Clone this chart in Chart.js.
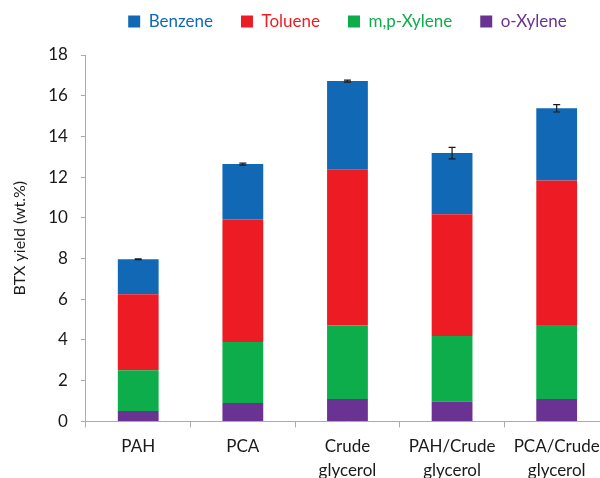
<!DOCTYPE html>
<html>
<head>
<meta charset="utf-8">
<script src="https://cdn.jsdelivr.net/npm/chart.js@4.4.1/dist/chart.umd.min.js"></script>
<style>
  html, body { margin: 0; padding: 0; background: #fff; overflow: hidden; }
  #wrap { width: 612px; height: 478px; position: relative; }
</style>
</head>
<body>
<div id="wrap"><canvas id="btxChart"></canvas></div>
<script>
// values (wt.%)
const categories = ['PAH', 'PCA', ['Crude', 'glycerol'], ['PAH/Crude', 'glycerol'], ['PCA/Crude', 'glycerol']];
const oXylene = [0.51, 0.90, 1.10, 0.98, 1.10];
const mpXylene = [2.00, 3.00, 3.61, 3.22, 3.64];
const toluene = [3.74, 6.02, 7.68, 5.98, 7.10];
const benzene = [1.72, 2.72, 4.33, 3.00, 3.54];
const totalError = [0.02, 0.05, 0.05, 0.28, 0.18];
const yTicks = [0, 2, 4, 6, 8, 10, 12, 14, 16, 18];

const FONT = 'Lato, "Open Sans", sans-serif';
const axisGray = '#ababab';

// error bar on top of each stacked total
const errorBars = {
    id: 'errorBars',
    afterDatasetsDraw(chart) {
        const ctx = chart.ctx;
        const x = chart.scales.x;
        const y = chart.scales.y;
        ctx.save();
        ctx.strokeStyle = '#1a1a1a';
        ctx.lineWidth = 1.2;
        categories.forEach((c, i) => {
            const total = oXylene[i] + mpXylene[i] + toluene[i] + benzene[i];
            const cx = x.getPixelForValue(i);
            const hi = y.getPixelForValue(total + totalError[i]);
            const lo = y.getPixelForValue(total - totalError[i]);
            ctx.beginPath();
            ctx.moveTo(cx, hi); ctx.lineTo(cx, lo);
            ctx.moveTo(cx - 3.5, hi); ctx.lineTo(cx + 3.5, hi);
            ctx.moveTo(cx - 3.5, lo); ctx.lineTo(cx + 3.5, lo);
            ctx.stroke();
        });
        ctx.restore();
    }
};

// leave extra room under the legend row so the plot starts lower
const legendGap = {
    id: 'legendGap',
    beforeLayout(chart) {
        const lg = chart.legend;
        if (lg && !lg._gapPatched) {
            const fit = lg.fit.bind(lg);
            lg.fit = function() { fit(); this.height += 15; };
            lg._gapPatched = true;
        }
    }
};

const ctx = document.getElementById('btxChart').getContext('2d');

new Chart(ctx, {
    type: 'bar',
    data: {
        labels: categories,
        datasets: [
            { label: 'o-Xylene', data: oXylene, backgroundColor: '#6a3393' },
            { label: 'm,p-Xylene', data: mpXylene, backgroundColor: '#0dad4b' },
            { label: 'Toluene', data: toluene, backgroundColor: '#ed1c24' },
            { label: 'Benzene', data: benzene, backgroundColor: '#1169b6' }
        ]
    },
    options: {
        responsive: true,
        maintainAspectRatio: false,
        animation: false,
        datasets: {
            bar: { categoryPercentage: 1, barPercentage: 0.39, borderWidth: 0 }
        },
        layout: { padding: { top: -15, right: 3, bottom: -11, left: 6 } },
        plugins: {
            tooltip: { enabled: false },
            legend: {
                position: 'top',
                fullSize: false,
                reverse: true,
                labels: {
                    boxWidth: 12,
                    boxHeight: 12,
                    padding: 28,
                    font: { family: FONT, size: 17 },
                    generateLabels(chart) {
                        const items = Chart.defaults.plugins.legend.labels.generateLabels(chart);
                        items.forEach(it => { it.fontColor = it.fillStyle; it.lineWidth = 0; });
                        return items;
                    }
                }
            }
        },
        scales: {
            x: {
                stacked: true,
                grid: { drawOnChartArea: false, color: axisGray, tickLength: 6, offset: true },
                border: { color: axisGray },
                ticks: { color: '#1a1a1a', font: { family: FONT, size: 17, lineHeight: 1.4 }, padding: 7, maxRotation: 0 }
            },
            y: {
                stacked: true,
                min: 0,
                max: 18,
                afterBuildTicks(scale) { scale.ticks = yTicks.map(v => ({ value: v })); },
                grid: { drawOnChartArea: false, color: axisGray, tickLength: 5 },
                border: { color: axisGray },
                ticks: { color: '#1a1a1a', font: { family: FONT, size: 17 }, padding: 13 },
                title: {
                    display: true,
                    text: 'BTX yield (wt.%)',
                    color: '#1a1a1a',
                    font: { family: FONT, size: 16 },
                    padding: { top: 4, bottom: 6 }
                }
            }
        }
    },
    plugins: [errorBars, legendGap]
});
</script>
</body>
</html>
